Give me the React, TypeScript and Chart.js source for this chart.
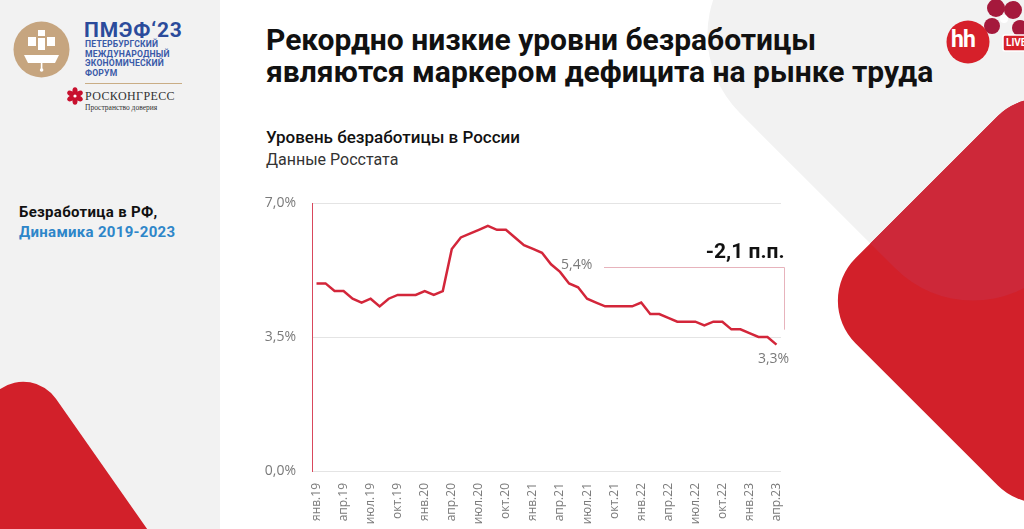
import React, { useEffect, useRef } from "react";
import { Chart, registerables } from "chart.js";

Chart.register(...registerables);

// Уровень безработицы, % (Росстат), по месяцам
const u2019 = [4.9, 4.9, 4.7, 4.7, 4.5, 4.4, 4.5, 4.3, 4.5, 4.6, 4.6, 4.6];
const u2020 = [4.7, 4.6, 4.7, 5.8, 6.1, 6.2, 6.3, 6.4, 6.3, 6.3, 6.1, 5.9];
const u2021 = [5.8, 5.7, 5.4, 5.2, 4.9, 4.8, 4.5, 4.4, 4.3, 4.3, 4.3, 4.3];
const u2022 = [4.4, 4.1, 4.1, 4.0, 3.9, 3.9, 3.9, 3.8, 3.9, 3.9, 3.7, 3.7];
const u2023 = [3.6, 3.5, 3.5, 3.3];

const monthNames = ["янв", "фев", "мар", "апр", "май", "июн", "июл", "авг", "сен", "окт", "ноя", "дек"];
const years = ["19", "20", "21", "22", "23"];
const yTicks = [0, 3.5, 7];

const series = [u2019, u2020, u2021, u2022, u2023];
const values: number[] = series.flat();
const labels: string[] = series.flatMap((arr, yi) => arr.map((_, mi) => `${monthNames[mi]}.${years[yi]}`));

// точка сравнения: март 2021
const refLabel = "мар.21";

const fmt = (v: number) => v.toFixed(1).replace(".", ",");

const RED = "#d3263a";

const annotations = {
  id: "deltaNote",
  afterDatasetsDraw(chart: any) {
    const { ctx } = chart;
    const xs = chart.scales.x;
    const ys = chart.scales.y;
    const ri = labels.indexOf(refLabel);
    const li = values.length - 1;
    const refV = values[ri];
    const lastV = values[li];
    const xr = xs.getPixelForValue(ri);
    const yr = ys.getPixelForValue(refV);
    const xl = xs.getPixelForValue(li);
    const yl = ys.getPixelForValue(lastV);
    ctx.save();
    ctx.font = "14px 'Open Sans'";
    ctx.fillStyle = "#7a7a7a";
    ctx.textAlign = "left";
    ctx.textBaseline = "middle";
    ctx.fillText(fmt(refV) + "%", xr + 10, yr + 1);
    ctx.textAlign = "center";
    ctx.fillText(fmt(lastV) + "%", xl - 3, yl + 14);

    ctx.strokeStyle = "#e7b3bc";
    ctx.lineWidth = 1;
    ctx.beginPath();
    ctx.moveTo(xr + 53, Math.round(yr + 3) + 0.5);
    ctx.lineTo(Math.round(xl + 8) + 0.5, Math.round(yr + 3) + 0.5);
    ctx.lineTo(Math.round(xl + 8) + 0.5, yl - 15);
    ctx.stroke();

    ctx.font = "bold 21px Roboto";
    ctx.fillStyle = "#111";
    ctx.textAlign = "right";
    ctx.textBaseline = "alphabetic";
    ctx.fillText(fmt(lastV - refV) + " п.п.", xl + 8, yr - 6);
    ctx.restore();
  },
};

function UnemploymentChart() {
  const ref = useRef<HTMLCanvasElement>(null);
  useEffect(() => {
    if (!ref.current) return;
    const chart = new Chart(ref.current, {
      type: "line",
      data: {
        labels,
        datasets: [
          {
            data: values,
            borderColor: RED,
            borderWidth: 2.5,
            pointRadius: 0,
            tension: 0,
            fill: false,
          },
        ],
      },
      options: {
        responsive: false,
        animation: false,
        devicePixelRatio: 1,
        layout: { padding: { left: 232, top: 203, right: 243, bottom: 0 } },
        plugins: { legend: { display: false }, tooltip: { enabled: false } },
        scales: {
          x: {
            offset: true,
            grid: { display: false, drawTicks: false },
            border: { display: false },
            afterFit: (s: any) => {
              s.height = 129;
            },
            ticks: {
              autoSkip: false,
              minRotation: 90,
              maxRotation: 90,
              padding: 12,
              color: "#7a7a7a",
              font: { family: "'Open Sans'", size: 12 },
              callback: (_v: any, i: number) => (i % 3 === 0 ? labels[i] : ""),
            },
          },
          y: {
            min: yTicks[0],
            max: yTicks[yTicks.length - 1],
            afterFit: (s: any) => {
              s.width = 80;
            },
            afterBuildTicks: (s: any) => {
              s.ticks = yTicks.map((v) => ({ value: v }));
            },
            grid: { color: "#e4e4e4", lineWidth: 1, drawTicks: false },
            border: { color: "#d9475c", width: 1 },
            ticks: {
              padding: 16,
              color: "#7a7a7a",
              font: { family: "'Open Sans'", size: 14 },
              callback: (v: any) => fmt(Number(v)) + "%",
            },
          },
        },
      },
      plugins: [annotations],
    });
    return () => chart.destroy();
  }, []);
  return (
    <canvas
      ref={ref}
      width={1024}
      height={600}
      style={{ position: "absolute", left: 0, top: 0, width: 1024, height: 600 }}
    />
  );
}

function Backdrop() {
  return (
    <svg width={1024} height={529} style={{ position: "absolute", left: 0, top: 0 }}>
      <defs>
        <clipPath id="greyDiamond">
          <rect x={-220} y={-220} width={440} height={440} rx={110} transform="translate(973,35) rotate(45)" />
        </clipPath>
      </defs>
      <rect x={0} y={0} width={220} height={529} fill="#f2f2f2" />
      <rect x={-220} y={-220} width={440} height={440} rx={110} transform="translate(973,35) rotate(45)" fill="#f2f2f2" />
      {/* red corner shapes */}
      <rect x={-160} y={-160} width={321} height={321} rx={60} transform="translate(1040,300) rotate(45)" fill="#d2202a" />
      <g clipPath="url(#greyDiamond)">
        <rect x={-160} y={-160} width={321} height={321} rx={60} transform="translate(1040,300) rotate(45)" fill="#cd2839" />
      </g>
      <rect x={0} y={0} width={400} height={400} rx={40} transform="translate(33,366) rotate(55)" fill="#d2202a" />

      {/* ПМЭФ emblem */}
      <circle cx={41.5} cy={49.5} r={28} fill="#c6a57f" />
      <g fill="#fff">
        <rect x={38} y={30} width={7} height={6} />
        <rect x={28} y={37} width={8} height={9} />
        <rect x={38} y={38} width={7} height={12} />
        <rect x={47} y={37} width={8} height={9} />
        <path d="M24 55 L59 55 L55 63 L28 63 Z" />
        <rect x={40.8} y={63} width={1.6} height={7} />
        <circle cx={41.6} cy={70} r={1.8} />
      </g>
      <line x1={85} y1={83.5} x2={182} y2={83.5} stroke="#c9ad85" strokeWidth={1.2} />
      {/* Росконгресс flower */}
      <g fill="#c8102e">
        {[0, 60, 120, 180, 240, 300].map((a) => (
          <ellipse key={a} cx={75} cy={91.5} rx={2.6} ry={4.2} transform={`rotate(${a} 75 96)`} />
        ))}
      </g>
      <circle cx={75} cy={96} r={1.6} fill="#fff" />

      {/* hh live */}
      <g fill="#a5193c">
        <circle cx={996} cy={8} r={9} />
        <circle cx={1013} cy={10} r={9} />
        <circle cx={992} cy={26} r={8} />
        <circle cx={1020} cy={28} r={8} />
      </g>
      <circle cx={1004} cy={19} r={4} fill="#fff" />
      <circle cx={968} cy={42} r={21.5} fill="#d6202a" />
      <rect x={1003} y={35} width={26} height={16} rx={2} fill="#d6202a" stroke="#fff" strokeWidth={1.5} />
    </svg>
  );
}

const abs = (x: number, y: number): React.CSSProperties => ({ position: "absolute", left: x, top: y, whiteSpace: "nowrap" });

export default function App() {
  return (
    <div
      style={{
        position: "fixed",
        left: 0,
        top: 0,
        width: 1024,
        height: 529,
        overflow: "hidden",
        background: "#ffffff",
        fontFamily: "Roboto, 'Open Sans', sans-serif",
      }}
    >
      <Backdrop />
      {/* ПМЭФ wordmark */}
      <div style={{ ...abs(84, 18), color: "#2b4b9b", fontWeight: 700, fontSize: 21, lineHeight: "24px", letterSpacing: 0.8 }}>
        ПМЭФ‘23
      </div>
      <div style={{ ...abs(85, 40), color: "#3a5aa8", fontWeight: 700, fontSize: 8.6, lineHeight: "9.6px", letterSpacing: 0.2 }}>
        ПЕТЕРБУРГСКИЙ
        <br />
        МЕЖДУНАРОДНЫЙ
        <br />
        ЭКОНОМИЧЕСКИЙ
        <br />
        ФОРУМ
      </div>
      <div style={{ ...abs(85, 89), color: "#333", fontFamily: "'Liberation Serif', serif", fontSize: 12, lineHeight: "14px", letterSpacing: 0.4 }}>
        РОСКОНГРЕСС
      </div>
      <div style={{ ...abs(85, 103), color: "#333", fontFamily: "'Liberation Serif', serif", fontSize: 7.5, lineHeight: "9px" }}>
        Пространство доверия
      </div>

      <div style={{ ...abs(19, 202), fontWeight: 700, fontSize: 15, lineHeight: "20px", color: "#111", letterSpacing: 0.3 }}>
        Безработица в РФ,
        <br />
        <span style={{ color: "#2e86c9" }}>Динамика 2019-2023</span>
      </div>

      <div style={{ ...abs(266, 24), fontWeight: 700, fontSize: 30, lineHeight: "32px", color: "#111", letterSpacing: 0 }}>
        Рекордно низкие уровни безработицы
        <br />
        являются маркером дефицита на рынке труда
      </div>
      <div style={{ ...abs(266, 126), fontWeight: 500, fontSize: 17, lineHeight: "22px", color: "#111" }}>
        Уровень безработицы в России
      </div>
      <div style={{ ...abs(266, 149), fontWeight: 400, fontSize: 16, lineHeight: "22px", color: "#333" }}>
        Данные Росстата
      </div>

      <div style={{ ...abs(951, 26), color: "#fff", fontWeight: 700, fontSize: 23, lineHeight: "28px", letterSpacing: -1 }}>hh</div>
      <div style={{ ...abs(1006, 37), color: "#fff", fontWeight: 700, fontSize: 10, lineHeight: "12px" }}>LIVE</div>

      <UnemploymentChart />
    </div>
  );
}
